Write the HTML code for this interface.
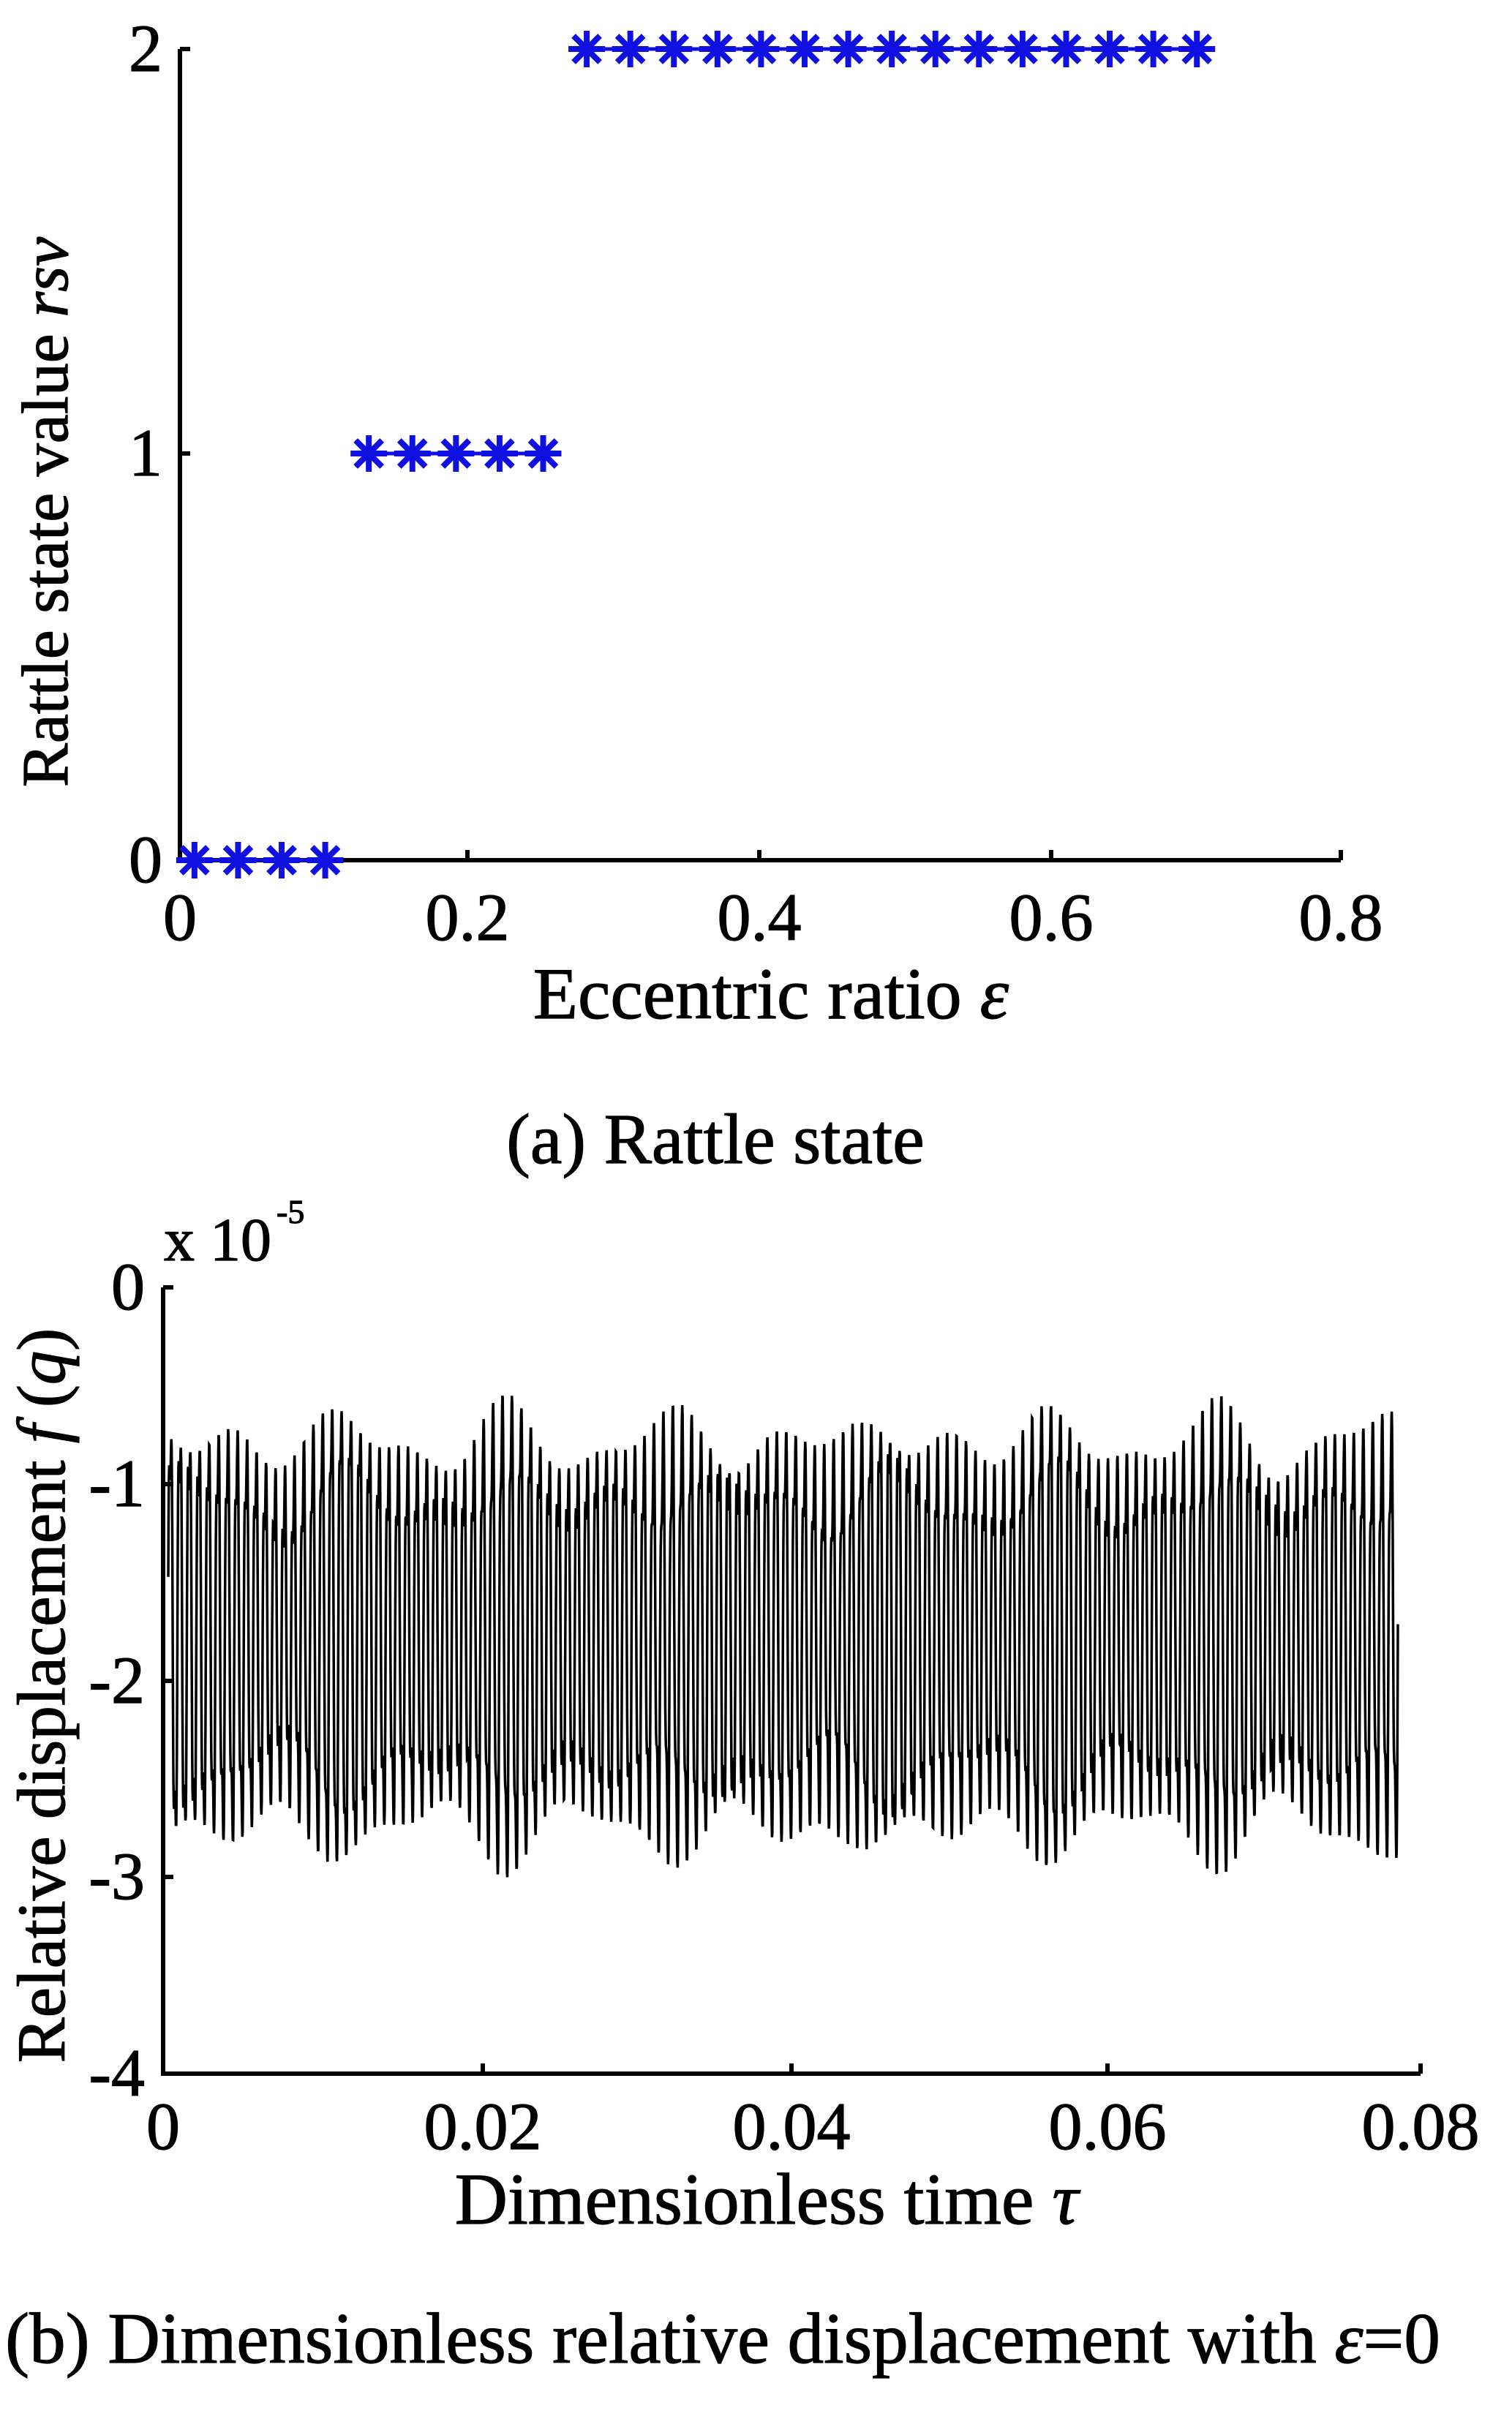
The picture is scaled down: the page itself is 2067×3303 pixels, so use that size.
<!DOCTYPE html>
<html><head><meta charset="utf-8"><style>
html,body{margin:0;padding:0;background:#fff}
svg{display:block}
text{font-family:"Liberation Serif",serif;fill:#000;stroke:#000;stroke-width:1.2}
</style></head><body>
<svg id="s" width="2067" height="3303" viewBox="0 0 2067 3303" xmlns="http://www.w3.org/2000/svg">
<defs>
<g id="st" stroke="#1010e0" stroke-width="8" stroke-linecap="butt">
<line x1="-25" y1="0" x2="25" y2="0"/><line x1="0" y1="-25" x2="0" y2="25"/>
<line x1="-18" y1="-18" x2="18" y2="18"/><line x1="-18" y1="18" x2="18" y2="-18"/>
</g>
</defs>
<!-- Top chart -->
<g stroke="#000" stroke-width="6" fill="none">
<path d="M246,67 L246,1176 L1833,1176"/>
<path d="M246,67 h14 M246,620 h14 M639,1176 v-14 M1038,1176 v-14 M1437,1176 v-14 M1833,1176 v-14"/>
</g>
<g id="stars"></g>
<g font-size="92" text-anchor="end">
<text x="222" y="97">2</text><text x="222" y="650">1</text><text x="222" y="1206">0</text>
</g>
<g font-size="92" text-anchor="middle">
<text x="246" y="1285">0</text><text x="639" y="1285">0.2</text><text x="1038" y="1285">0.4</text><text x="1437" y="1285">0.6</text><text x="1833" y="1285">0.8</text>
</g>
<text x="1054" y="1392" font-size="100" text-anchor="middle">Eccentric ratio <tspan font-style="italic">ε</tspan></text>
<text x="978" y="1590" font-size="98" text-anchor="middle">(a) Rattle state</text>
<text transform="translate(92,700) rotate(-90)" font-size="90" text-anchor="middle">Rattle state value <tspan font-style="italic">rsv</tspan></text>

<!-- Bottom chart -->
<path id="sig" fill="none" stroke="#000" stroke-width="3.5"/>
<g stroke="#000" stroke-width="6" fill="none">
<path d="M223,1760 L223,2835 L1942,2835"/>
<path d="M223,1760 h14 M223,2029 h14 M223,2298 h14 M223,2566 h14 M660,2835 v-14 M1082,2835 v-14 M1514,2835 v-14 M1942,2835 v-14"/>
</g>
<g font-size="92" text-anchor="end">
<text x="198" y="1790">0</text><text x="198" y="2059">-1</text><text x="198" y="2328">-2</text><text x="198" y="2596">-3</text><text x="198" y="2865">-4</text>
</g>
<text x="224" y="1723" font-size="84">x 10</text>
<text x="378" y="1672" font-size="46">-5</text>
<g font-size="92" text-anchor="middle">
<text x="223" y="2938">0</text><text x="660" y="2938">0.02</text><text x="1082" y="2938">0.04</text><text x="1514" y="2938">0.06</text><text x="1942" y="2938">0.08</text>
</g>
<text x="1048" y="3040" font-size="100" text-anchor="middle">Dimensionless time <tspan font-style="italic">τ</tspan></text>
<text x="988" y="3230" font-size="99" text-anchor="middle">(b) Dimensionless relative displacement with <tspan font-style="italic">ε</tspan>=0</text>
<text transform="translate(88,2318) rotate(-90)" font-size="93" text-anchor="middle">Relative displacement <tspan font-style="italic">f</tspan> (<tspan font-style="italic">q</tspan>)</text>
</svg>
<script>
(function(){
var ns="http://www.w3.org/2000/svg",g=document.getElementById("stars");
function add(e,y){var u=document.createElementNS(ns,"use");u.setAttribute("href","#st");u.setAttribute("x",246+e*1986);u.setAttribute("y",y);g.appendChild(u);}
function line(a,b,y){var l=document.createElementNS(ns,"line");l.setAttribute("x1",246+a*1986);l.setAttribute("x2",246+b*1986);l.setAttribute("y1",y);l.setAttribute("y2",y);l.setAttribute("stroke","#1010e0");l.setAttribute("stroke-width","5");g.appendChild(l);}
line(0.01,0.10,1176);line(0.13,0.25,620);line(0.28,0.70,67);
for(var i=0;i<4;i++)add(0.01+0.03*i,1176);
for(i=0;i<5;i++)add(0.13+0.03*i,620);
for(i=0;i<15;i++)add(0.28+0.03*i,67);
var x0=230,x1=1911,N=4000,d="";
for(i=0;i<=N;i++){var u=i/N;var x=x0+(x1-x0)*u;var a=2*Math.PI*130*u;
var v=-1.77+0.95*Math.sin(a)+0.26*Math.sin(3*a+0.7)+0.09*Math.sin(2*Math.PI*137*u)+0.08*Math.sin(2*Math.PI*143.7*u+1)+0.07*Math.sin(2*Math.PI*121.3*u+2);
var y=1760+(-v)*269;d+=(i?"L":"M")+x.toFixed(1)+","+y.toFixed(1);}
document.getElementById("sig").setAttribute("d",d);
})();
</script>
</body></html>
